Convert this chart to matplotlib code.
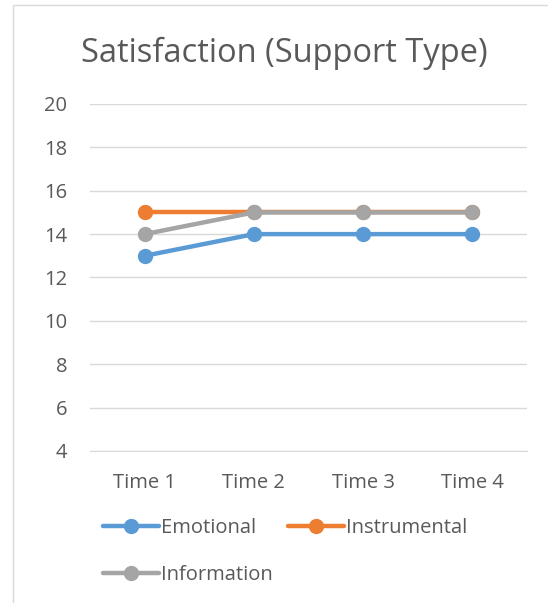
import matplotlib
matplotlib.use("Agg")
import matplotlib.pyplot as plt
from matplotlib.patches import Rectangle

categories = ["Time 1", "Time 2", "Time 3", "Time 4"]
emotional = [13, 14, 14, 14]
instrumental = [15, 15, 15, 15]
information = [14, 15, 15, 15]
y_ticks = [4, 6, 8, 10, 12, 14, 16, 18, 20]

series = [
    ("Emotional", emotional, "#5B9BD5"),
    ("Instrumental", instrumental, "#ED7D31"),
    ("Information", information, "#A5A5A5"),
]

plt.rcParams["font.family"] = ["Open Sans", "DejaVu Sans"]
text_color = "#595959"
grid_color = "#D9D9D9"

fig = plt.figure(figsize=(5.48, 6.03), dpi=100)
fig.patch.set_facecolor("white")

# chart frame
fig.patches.append(Rectangle((13 / 548, -0.01), 1.0, 1 - 5 / 603 + 0.01,
                             transform=fig.transFigure, fill=False,
                             edgecolor="#D9D9D9", linewidth=1.0))

ax = fig.add_axes([90 / 548, 152 / 603, 437 / 548, 347 / 603])
x = list(range(len(categories)))
lines = {}
for name, vals, color in series:
    (ln,) = ax.plot(x, vals, color=color, linewidth=3.2, marker="o",
                    markersize=10, label=name, solid_capstyle="round",
                    zorder=3)
    lines[name] = ln

ax.set_xlim(-0.5, len(categories) - 0.5)
ax.set_ylim(4, 20)
ax.set_yticks(y_ticks)
ax.set_xticks(x)
ax.set_xticklabels(categories)
ax.grid(axis="y", color=grid_color, linewidth=1.0)
ax.set_axisbelow(True)
for side in ["top", "right", "left"]:
    ax.spines[side].set_visible(False)
ax.spines["bottom"].set_color(grid_color)
ax.tick_params(axis="both", length=0, labelsize=14.5, colors=text_color)
ax.tick_params(axis="x", pad=16)
ax.tick_params(axis="y", pad=16.5)

fig.text(284 / 548, 1 - 53 / 603, "Satisfaction (Support Type)",
         ha="center", va="center", fontsize=23.5, color=text_color)

# legend fills column-wise: first column Emotional/Information, second Instrumental
order = ["Emotional", "Information", "Instrumental"]
leg = fig.legend([lines[n] for n in order], order,
                 loc="upper left", bbox_to_anchor=(95 / 548, 1 - 510 / 603),
                 ncol=2, frameon=False, fontsize=14.5, handlelength=2.78,
                 handletextpad=0.1, columnspacing=0.75, labelspacing=1.35,
                 borderaxespad=0)
for t in leg.get_texts():
    t.set_color(text_color)

fig.savefig("out.png", dpi=100)
